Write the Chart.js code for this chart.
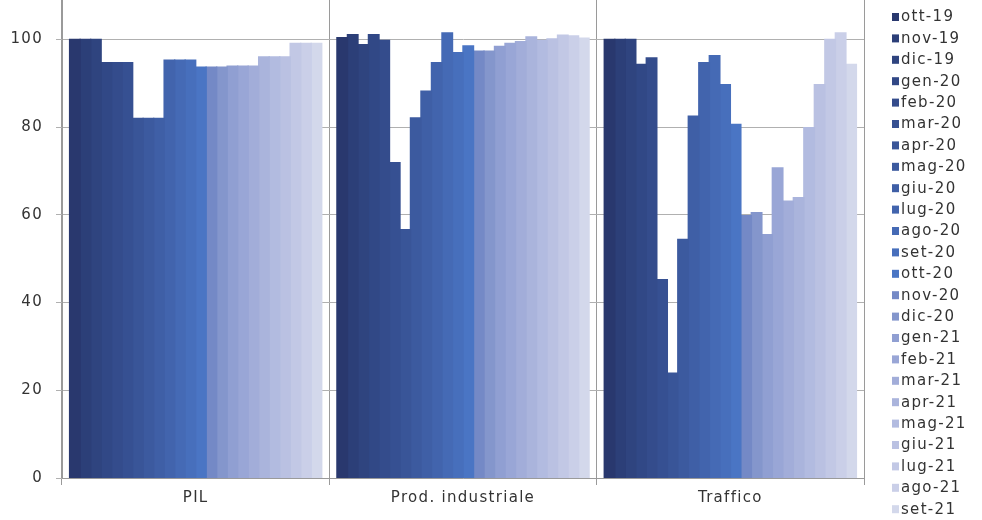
<!DOCTYPE html>
<html>
<head>
<meta charset="utf-8">
<script src="https://cdn.jsdelivr.net/npm/chart.js@4.4.0/dist/chart.umd.min.js"></script>
<style>
  html, body { margin: 0; padding: 0; background: #ffffff; }
  #wrap { width: 982px; height: 520px; position: relative; }
</style>
</head>
<body>
<div id="wrap"><canvas id="c" width="982" height="520"></canvas></div>
<script>
// Indici mensili (ott-19 = 100) per tre indicatori
const categories = ['PIL', 'Prod. industriale', 'Traffico'];
const months = ['ott-19', 'nov-19', 'dic-19', 'gen-20', 'feb-20', 'mar-20',
                'apr-20', 'mag-20', 'giu-20', 'lug-20', 'ago-20', 'set-20',
                'ott-20', 'nov-20', 'dic-20', 'gen-21', 'feb-21', 'mar-21',
                'apr-21', 'mag-21', 'giu-21', 'lug-21', 'ago-21', 'set-21'];
const pil = [100, 100, 100, 94.7, 94.7, 94.7, 82, 82, 82, 95.3, 95.3, 95.3,
             93.7, 93.7, 93.7, 93.9, 93.9, 93.9, 96, 96, 96, 99.1, 99.1, 99.1];
const prodIndustriale = [100.4, 101.1, 98.8, 101.1, 99.8, 71.9, 56.6, 82.1, 88.2, 94.7, 101.5, 97,
                         98.5, 97.3, 97.3, 98.4, 99.1, 99.5, 100.6, 99.8, 100.1, 101, 100.8, 100.3];
const traffico = [100, 100, 100, 94.3, 95.8, 45.2, 23.9, 54.4, 82.5, 94.7, 96.3, 89.7,
                  80.6, 59.8, 60.5, 55.5, 70.7, 63.1, 63.9, 79.9, 89.7, 100, 101.5, 94.3];
const yTicks = [0, 20, 40, 60, 80, 100];
const palette = ['#29386e', '#2c3f78', '#2f447f', '#314886', '#344c8c', '#365092',
                 '#395598', '#3c5a9f', '#3f5fa6', '#4264ad', '#456ab5', '#476fbc',
                 '#4a75c4', '#7489c6', '#8496cc', '#909fd2', '#99a6d6', '#a2add9',
                 '#aab4dc', '#b2bbe0', '#bac1e2', '#c2c8e5', '#cacfe8', '#d3d8eb'];

const FONT = 'DejaVu Sans';
const TEXT = '#333333';
const SPACING = '1.3px';

const datasets = months.map((m, i) => ({
  label: m,
  data: [pil[i], prodIndustriale[i], traffico[i]],
  backgroundColor: palette[i],
  borderWidth: 0,
  inflateAmount: 0.7,
  barPercentage: 1,
  categoryPercentage: 0.943
}));

// Slightly wider lettering for all chart text
const spacingPlugin = {
  id: 'spacing',
  beforeDraw(chart) { chart.ctx.letterSpacing = SPACING; }
};

// Single-column legend on the right side
const sideLegend = {
  id: 'sideLegend',
  afterDraw(chart) {
    const ctx = chart.ctx;
    const x0 = chart.chartArea.right + 28;
    ctx.save();
    ctx.letterSpacing = SPACING;
    ctx.font = '15px "' + FONT + '"';
    ctx.textBaseline = 'middle';
    ctx.textAlign = 'left';
    chart.data.datasets.forEach((ds, i) => {
      const y = 17 + i * 21.4;
      ctx.fillStyle = ds.backgroundColor;
      ctx.fillRect(x0, y - 4, 7, 8);
      ctx.fillStyle = TEXT;
      ctx.fillText(ds.label, x0 + 9, y + 0.5);
    });
    ctx.restore();
  }
};

new Chart(document.getElementById('c'), {
  type: 'bar',
  data: { labels: categories, datasets: datasets },
  options: {
    responsive: false,
    animation: false,
    devicePixelRatio: 1,
    layout: { padding: { top: 0, left: 0, right: 118, bottom: 0 } },
    plugins: {
      legend: { display: false },
      tooltip: { enabled: false }
    },
    scales: {
      x: {
        grid: { offset: true, color: '#9a9a9a', lineWidth: 1, tickLength: 7 },
        border: { color: '#9a9a9a' },
        ticks: { font: { family: FONT, size: 15 }, color: TEXT, padding: 4, maxRotation: 0 },
        afterFit(s) { s.height = 42; s.paddingLeft = 0; s.paddingRight = 0; }
      },
      y: {
        min: 0,
        max: 109,
        afterBuildTicks(s) { s.ticks = yTicks.map(v => ({ value: v })); },
        grid: { color: '#b0b0b0', lineWidth: 1, tickLength: 6 },
        border: { color: '#9a9a9a' },
        ticks: { font: { family: FONT, size: 15 }, color: TEXT, padding: 13 },
        afterFit(s) { s.width = 62; s.paddingTop = 0; s.paddingBottom = 0; }
      }
    }
  },
  plugins: [spacingPlugin, sideLegend]
});
</script>
</body>
</html>
